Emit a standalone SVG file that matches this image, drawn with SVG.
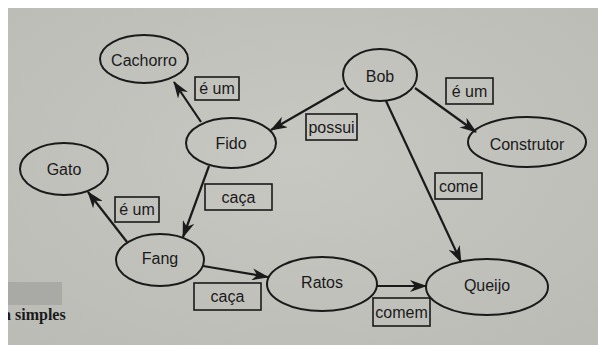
<svg xmlns="http://www.w3.org/2000/svg" width="598" height="345" viewBox="0 0 598 345">
  <defs>
    <marker id="head" viewBox="0 0 17 12" refX="16" refY="6" markerWidth="17" markerHeight="12" markerUnits="userSpaceOnUse" orient="auto">
      <path d="M0,0 L17,6 L0,12 L5,6 z" fill="#1a1a1a"/>
    </marker>
    <radialGradient id="paper" cx="50%" cy="45%" r="70%">
      <stop offset="0" stop-color="#c8c8c3"/>
      <stop offset="1" stop-color="#bcbcb7"/>
    </radialGradient>
  </defs>
  <style>
    .node ellipse { fill: none; stroke: #1a1a1a; stroke-width: 2; }
    .node text, .label text { font-family: "Liberation Sans", Arial, sans-serif; font-size: 16px; fill: #1a1a1a; text-anchor: middle; dominant-baseline: central; }
    .label rect { fill: none; stroke: #1a1a1a; stroke-width: 1.6; }
    .edge { fill: none; stroke: #1a1a1a; stroke-width: 2.2; marker-end: url(#head); }
  </style>

  <!-- page -->
  <rect x="0" y="0" width="598" height="345" fill="url(#paper)"/>
  <rect x="8" y="282" width="54" height="23" fill="#a9a9a5"/>
  <text x="3" y="320" font-family="Liberation Serif, 'Times New Roman', serif" font-size="16" font-weight="bold" fill="#1a1a1a">a simples</text>
  <!-- white margin -->
  <rect x="0" y="0" width="598" height="8" fill="#ffffff"/>
  <rect x="0" y="0" width="8" height="345" fill="#ffffff"/>

  <!-- connectors -->
  <g id="connectors">
    <line class="edge" x1="201" y1="122" x2="174" y2="82"/>
    <line class="edge" x1="344" y1="88" x2="271" y2="130"/>
    <line class="edge" x1="415" y1="88" x2="476" y2="132"/>
    <line class="edge" x1="386" y1="101" x2="461" y2="262"/>
    <line class="edge" x1="209" y1="166" x2="183" y2="237"/>
    <line class="edge" x1="127" y1="242" x2="88" y2="192"/>
    <line class="edge" x1="203" y1="266" x2="268" y2="277"/>
    <line class="edge" x1="377" y1="286" x2="426" y2="286"/>

    <g class="label"><rect x="195" y="77" width="44" height="23"/><text x="217" y="88.5">é um</text></g>
    <g class="label"><rect x="306" y="114" width="51" height="26"/><text x="331.5" y="127">possui</text></g>
    <g class="label"><rect x="446" y="78" width="47" height="26"/><text x="469.5" y="91">é um</text></g>
    <g class="label"><rect x="435" y="173" width="47" height="26"/><text x="458.5" y="186">come</text></g>
    <g class="label"><rect x="205" y="184" width="67" height="26"/><text x="238.5" y="197">caça</text></g>
    <g class="label"><rect x="115" y="197" width="44" height="25"/><text x="137" y="209.5">é um</text></g>
    <g class="label"><rect x="194" y="283" width="67" height="27"/><text x="227.5" y="296.5">caça</text></g>
    <g class="label"><rect x="373" y="298" width="57" height="28"/><text x="401.5" y="312">comem</text></g>
  </g>

  <!-- nodes -->
  <g id="cachorro" class="node"><ellipse cx="144" cy="59" rx="44" ry="24"/><text x="144" y="60">Cachorro</text></g>
  <g id="fido" class="node"><ellipse cx="231" cy="143" rx="45" ry="25"/><text x="231" y="143">Fido</text></g>
  <g id="gato" class="node"><ellipse cx="64" cy="169" rx="44" ry="26"/><text x="64" y="169">Gato</text></g>
  <g id="bob" class="node"><ellipse cx="380" cy="75" rx="37" ry="26"/><text x="380" y="76">Bob</text></g>
  <g id="construtor" class="node"><ellipse cx="527" cy="142" rx="59" ry="25"/><text x="527" y="144">Construtor</text></g>
  <g id="fang" class="node"><ellipse cx="160" cy="260" rx="44" ry="26"/><text x="160" y="258">Fang</text></g>
  <g id="ratos" class="node"><ellipse cx="322" cy="284" rx="55" ry="27"/><text x="322" y="282">Ratos</text></g>
  <g id="queijo" class="node"><ellipse cx="487" cy="287" rx="61" ry="28"/><text x="487" y="285">Queijo</text></g>
</svg>
